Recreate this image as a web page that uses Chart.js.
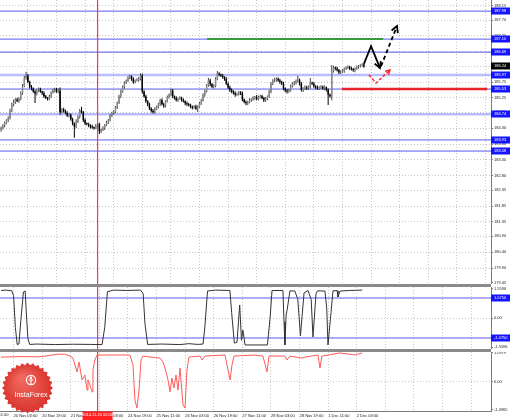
<!DOCTYPE html>
<html>
<head>
<meta charset="utf-8">
<script src="https://cdn.jsdelivr.net/npm/chart.js@4/dist/chart.umd.min.js"></script>
<style>
  html, body { margin:0; padding:0; background:#ffffff; }
  #wrap { position:relative; width:510px; height:420px; overflow:hidden; background:#fff; }
  #wrap canvas { position:absolute; left:0; }
  .sep { position:absolute; left:0; width:491px; height:3px; background:#8a8a8a; }
</style>
</head>
<body>
<div id="wrap">
  <canvas id="c1" width="510" height="284" style="top:0;width:510px;height:284px"></canvas>
  <div class="sep" style="top:284px"></div>
  <canvas id="c2" width="510" height="62" style="top:287px;width:510px;height:62px"></canvas>
  <div class="sep" style="top:349px"></div>
  <canvas id="c3" width="510" height="68" style="top:352px;width:510px;height:68px"></canvas>
</div>
<script>
// ================= DATA =================
const firstOpen = 184.25;
const closes = [
184.30,184.38,184.45,184.55,184.62,
184.85,185.05,185.12,185.20,185.15,185.22,
185.40,185.62,185.88,185.95,185.75,
185.60,185.55,185.45,185.38,185.48,185.52,
185.45,185.40,185.30,185.25,185.22,
185.30,185.42,185.48,185.52,185.45,185.48,
184.80,184.88,184.85,184.78,184.70,184.72,
184.58,184.45,184.35,184.50,184.65,
184.85,184.80,184.55,184.45,184.42,184.38,
184.35,184.32,184.30,184.38,184.42,
184.20,184.25,184.30,184.40,184.48,184.55,
184.70,184.78,184.80,184.95,185.10,185.30,
185.45,185.60,185.72,185.80,185.88,
185.92,185.85,185.75,185.80,185.82,185.85,
185.95,185.45,185.30,185.15,185.05,184.92,
184.85,184.80,184.90,184.98,185.05,
185.18,185.05,185.00,185.15,185.28,185.35,
185.48,185.30,185.25,185.18,185.22,185.25,
185.18,185.15,185.08,185.05,185.02,
184.98,184.95,184.98,184.92,184.98,185.08,
185.18,185.35,185.45,185.65,185.80,
185.68,185.60,185.62,185.85,186.02,185.98,
185.95,185.90,185.85,185.70,185.58,185.50,
185.45,185.40,185.35,185.38,185.42,
185.40,185.20,185.12,185.08,185.12,185.18,
185.20,185.25,185.28,185.22,185.28,185.30,
185.25,185.18,185.22,185.30,185.45,
185.70,185.80,185.82,185.85,185.80,185.75,
185.70,185.55,185.48,185.45,185.50,
185.62,185.70,185.72,185.78,185.82,185.70,
185.50,185.55,185.58,185.55,185.60,185.72,
185.70,185.62,185.58,185.55,185.58,
185.60,185.55,185.58,185.50,185.35,185.30,
186.10,186.20,186.18,186.12,186.05,
186.08,186.10,186.18,186.20,186.22,186.18,
186.15,186.12,186.18,186.22,186.25,186.28,
186.30,186.24
];
const upperWick = [
.05,.04,.06,.03,.05,
.06,.05,.08,.04,.06,.05,
.05,.07,.06,.12,.05,
.04,.06,.03,.05,.04,.06,
.05,.03,.06,.04,.03,
.05,.04,.06,.05,.04,.07,
.10,.05,.06,.04,.05,.06,
.04,.05,.03,.08,.06,
.05,.12,.04,.06,.03,.05,
.04,.06,.03,.05,.04,
.05,.04,.06,.03,.05,.04,
.05,.04,.06,.05,.04,.05,
.06,.04,.05,.03,.05,
.06,.04,.05,.03,.05,.06,
.08,.06,.04,.05,.03,.05,
.04,.05,.06,.03,.05,
.04,.06,.05,.03,.05,.04,
.06,.05,.03,.05,.04,.05,
.04,.05,.03,.06,.04,
.05,.03,.04,.06,.04,.05,
.04,.05,.06,.04,.08,
.05,.04,.06,.05,.08,.04,
.04,.05,.03,.06,.04,.05,
.05,.04,.06,.03,.05,
.04,.05,.03,.05,.04,.06,
.04,.05,.03,.06,.04,.05,
.05,.04,.06,.03,.05,
.05,.04,.06,.05,.04,.05,
.04,.06,.03,.05,.04,
.05,.04,.06,.05,.13,.04,
.05,.04,.06,.05,.04,.16,
.04,.05,.03,.06,.04,
.05,.04,.06,.03,.05,.04,
.19,.06,.04,.05,.04,
.04,.05,.03,.04,.05,.04,
.05,.04,.03,.05,.04,.03,
.04,.03
];
const lowerWick = [
.06,.04,.05,.03,.06,
.05,.04,.06,.05,.03,.05,
.04,.05,.03,.06,.04,
.05,.06,.04,.29,.05,.04,
.04,.06,.05,.03,.05,
.04,.05,.03,.06,.04,.05,
.08,.05,.06,.04,.05,.06,
.05,.06,.35,.05,.04,
.05,.04,.06,.05,.03,.05,
.06,.04,.05,.03,.05,
.08,.05,.04,.06,.03,.05,
.04,.05,.06,.03,.05,.04,
.05,.04,.06,.03,.05,
.04,.06,.05,.04,.03,.05,
.05,.06,.04,.05,.06,.05,
.06,.04,.05,.03,.06,
.05,.04,.06,.05,.04,.05,
.04,.06,.05,.04,.05,.03,
.05,.04,.06,.05,.04,
.05,.06,.04,.05,.11,.04,
.05,.04,.06,.03,.05,
.06,.04,.05,.03,.04,.05,
.04,.05,.06,.04,.05,.06,
.05,.04,.06,.03,.05,
.06,.05,.04,.06,.05,.04,
.05,.04,.06,.05,.04,.05,
.04,.06,.05,.04,.05,
.05,.04,.06,.05,.04,.05,
.04,.06,.05,.06,.04,
.05,.04,.06,.05,.04,.06,
.05,.06,.04,.05,.04,.05,
.04,.05,.06,.04,.05,
.05,.04,.06,.05,.32,.04,
.12,.05,.06,.04,.05,
.05,.04,.06,.05,.04,.05,
.04,.05,.06,.04,.05,.04,
.05,.04
];

// price axis
const priceTicks  = [188.15,187.70,187.20,186.70,186.25,185.75,185.25,184.80,184.30,183.80,183.30,182.80,182.35,181.85,181.35,180.90,180.40,179.90,179.45];
const priceLabels = ['188.15','187.70','187.20','186.70','186.25','185.75','185.25','184.80','184.30','183.80','183.30','182.80','182.35','181.85','181.35','180.90','180.40','179.90','179.45'];
// horizontal levels
const levelPrices = [187.98, 187.10, 186.69, 185.97, 185.53, 184.74, 183.93, 183.58];
const levelLabels = ['187.98','187.10','186.69','185.97','185.53','184.74','183.93','183.58'];
const currentPrice = 186.24;
const currentLabel = '186.24';
// drawn objects (bar index, price)
const greenLineIdx = [115.2, 213.7];
const greenLinePrice = [187.10, 187.10];
const supportLineIdx = [190.7, 272.0];
const supportLinePrice = [185.53, 185.53];
const blackPathIdx = [203.0, 207.0, 212.0];
const blackPathPrice = [186.32, 186.88, 186.19];
const blackDashIdx = [212.6, 221.5];
const blackDashPrice = [186.25, 187.51];
const redDashIdx = [205.8, 209.8, 217.6];
const redDashPrice = [185.97, 185.72, 186.13];

// time axis
const gridIdx = [7,23,39,55,71,87,103,119,135,151,167,183,199,215,231,247,263];
const gridLabels = ['20 Nov 03:00','20 Nov 19:00','21 Nov 11:00','24 Nov 03:00','24 Nov 19:00','25 Nov 11:00','26 Nov 03:00','26 Nov 19:00','27 Nov 11:00','28 Nov 03:00','28 Nov 19:00','1 Dec 11:00','2 Dec 03:00','','','',''];
const prevLabelIdx = -9;
const prevLabel = '19 Nov 11:00';
const vLineIdx = 54;
const vLineLabel = '2014.11.24 02:00';

// indicator 1
const osc1Idx = [0,3,6,7,8,9,10,11,12.5,13.5,14,15,16,20,30,40,50,56.5,58,59.5,61,63,70,78,79.5,80.5,82,90,100,105,110,113,114,115.5,120,128,129,130.5,132,133.5,134.5,135.3,136.5,149,150.5,151.6,157.7,158.3,158.8,159.5,160,161.6,164.4,166,167.5,169.5,171.7,173.5,174.5,176.2,177,181.2,182.2,182.9,184.6,185.7,188,188.5,189.6,195,202];
const osc1Val = [1.48,1.50,1.46,1.20,-0.50,-1.42,-1.40,-0.20,1.40,1.45,0.50,-1.10,-1.42,-1.40,-1.43,-1.41,-1.42,-1.43,-0.50,1.42,1.45,1.50,1.48,1.50,1.30,-0.30,-1.42,-1.40,-1.43,-1.38,-1.42,-1.40,-0.50,1.45,1.50,1.48,0.30,-1.35,-1.30,0.70,-1.20,-0.65,-1.45,-1.45,0.00,1.48,1.48,-0.20,-1.45,0.20,0.40,1.46,1.45,1.00,-0.95,1.35,1.48,1.00,-1.02,1.30,1.46,1.45,0.50,-1.45,0.30,1.46,1.47,1.13,1.45,1.48,1.50];
const osc1Ticks = [1.5596, 0, -1.5596];
const osc1Labels = ['1.5596', '0.00', '-1.5596'];
const osc1Levels = [1.075, -1.075];
const osc1LevelLabels = ['1.0750', '-1.0750'];

// indicator 2
const osc2Idx = [0,10.6,21.8,31.8,35.8,38.6,40.2,42.5,43.6,45.3,46.9,48.1,48.6,49.7,50.9,51.4,52.5,53.7,72.1,73.8,74.9,76.0,77.2,78.3,79.4,88.9,90.6,91.7,93.4,94.5,95.6,96.7,97.9,99,100.1,101.8,102.9,104,105.1,111.3,112.4,114.1,125.3,127,128.1,129.2,130.3,142.1,146.5,148.8,149.9,158.8,160,161.6,168.4,170,177.3,178.4,179.5,189.6,198,199.7,202];
const osc2Val = [0.94,0.96,0.95,1.05,1.05,0.98,0.90,0.37,0.75,0.06,0.25,-0.33,0.06,-0.13,-0.40,0.44,0.83,1.02,1.02,0.64,-0.71,-1.02,-0.33,0.83,0.98,0.90,0.75,0.52,0.06,-0.40,0.13,-0.25,0.25,-0.33,0.52,-0.90,-1.02,0.44,0.94,0.98,0.83,0.98,1.02,0.44,0.06,0.64,0.98,1.02,0.98,0.37,0.98,0.98,0.83,0.98,0.90,0.94,1.02,0.52,0.98,1.10,1.02,1.06,1.10];
const osc2Ticks = [1.0979, 0, -1.0965];
const osc2Labels = ['1.0979', '0.00', '-1.0965'];

// ================= RENDER =================
const FONT = '"Liberation Sans", Arial, sans-serif';
const xMin = -0.6, xMax = 274.1;
const opens = closes.map((c, i) => i === 0 ? firstOpen : closes[i - 1]);
const highs = closes.map((c, i) => Math.max(opens[i], c) + upperWick[i]);
const lows  = closes.map((c, i) => Math.min(opens[i], c) - lowerWick[i]);
const isBull = closes.map((c, i) => c >= opens[i]);
const thickLevels = [false, false, false, true, false, true, false, false];
const VRED = '#ff3c3c';

function xScale(showLabels) {
  return {
    type: 'linear', min: xMin, max: xMax, offset: false,
    afterBuildTicks: s => { s.ticks = gridIdx.map(v => ({ value: v })); },
    afterFit: s => { s.height = showLabels ? 9 : 0; s.paddingLeft = 0; s.paddingRight = 0; },
    grid: { color: '#c6c6c6', lineWidth: 1, drawTicks: false },
    border: { display: showLabels, color: '#7a7a7a', dash: [1, 2] },
    ticks: { display: showLabels, align: 'start', padding: 2, maxRotation: 0, minRotation: 0, autoSkip: false,
      font: { family: FONT, size: 4 }, color: '#222',
      callback: (v, i) => gridLabels[i] }
  };
}
function yScale(min, max, ticks, labels, hideGrid) {
  return {
    type: 'linear', position: 'right', min: min, max: max,
    afterBuildTicks: s => { s.ticks = ticks.map(v => ({ value: v })); },
    afterFit: s => { s.width = 19; s.paddingTop = 0; s.paddingBottom = 0; },
    grid: { color: c => (hideGrid && c.tick && hideGrid.indexOf(c.tick.value) >= 0) ? 'rgba(0,0,0,0)' : '#c6c6c6',
            lineWidth: 1, drawTicks: true, tickLength: 2, tickColor: '#7a7a7a', tickBorderDash: [] },
    border: { display: true, color: '#7a7a7a', dash: [1, 2] },
    ticks: { autoSkip: false, padding: 1, font: { family: FONT, size: 4 }, color: '#222',
      callback: (v, i) => labels[i] }
  };
}
function hLine(xs, ys, color, width, order, dash) {
  return { type: 'line', data: xs.map((x, k) => ({ x: x, y: ys[k] })), borderColor: color, backgroundColor: color,
           borderWidth: width, borderDash: dash || [], pointRadius: 0, tension: 0, order: order, fill: false };
}

const tagPlugin = {
  id: 'tags',
  afterDraw(chart, args, opts) {
    const ctx = chart.ctx, ys = chart.scales.y;
    (opts.items || []).forEach(t => {
      const y = ys.getPixelForValue(t.v);
      ctx.save();
      ctx.fillStyle = t.bg;
      ctx.fillRect(491, Math.round(y) - 3.5, 19, 7);
      ctx.fillStyle = '#ffffff';
      ctx.font = '4px ' + FONT;
      ctx.textBaseline = 'middle'; ctx.textAlign = 'left';
      ctx.fillText(t.text, 494, Math.round(y));
      ctx.restore();
    });
  }
};
const arrowPlugin = {
  id: 'arrows',
  afterDatasetsDraw(chart) {
    const ctx = chart.ctx;
    chart.data.datasets.forEach((ds, di) => {
      if (!ds.arrowHead) return;
      const pts = chart.getDatasetMeta(di).data;
      const a = pts[pts.length - 2], b = pts[pts.length - 1];
      const ang = Math.atan2(b.y - a.y, b.x - a.x), L = ds.arrowHead;
      ctx.save();
      ctx.strokeStyle = ds.borderColor; ctx.lineWidth = ds.borderWidth; ctx.setLineDash([]);
      ctx.beginPath();
      ctx.moveTo(b.x - L * Math.cos(ang - 0.5), b.y - L * Math.sin(ang - 0.5));
      ctx.lineTo(b.x, b.y);
      ctx.lineTo(b.x - L * Math.cos(ang + 0.5), b.y - L * Math.sin(ang + 0.5));
      ctx.stroke();
      ctx.restore();
    });
  }
};
const axisExtrasPlugin = {
  id: 'axisExtras',
  afterDraw(chart) {
    const ctx = chart.ctx, xs = chart.scales.x, top = chart.chartArea.bottom;
    ctx.save();
    ctx.font = '4px ' + FONT; ctx.textBaseline = 'top'; ctx.textAlign = 'left'; ctx.fillStyle = '#222';
    ctx.fillText(prevLabel, xs.getPixelForValue(prevLabelIdx), top + 2);
    const cx = xs.getPixelForValue(vLineIdx);
    ctx.fillStyle = '#ff2020';
    ctx.fillRect(cx - 15, top + 0.5, 30, 9);
    ctx.fillStyle = '#ffffff'; ctx.textAlign = 'center';
    ctx.fillText(vLineLabel, cx, top + 2);
    ctx.restore();
  }
};
const badgePlugin = {
  id: 'badge',
  afterDraw(chart) {
    const ctx = chart.ctx, cx = 27.5, cy = 36, R = 25.5, r = 23, n = 28;
    ctx.save();
    ctx.beginPath();
    for (let k = 0; k < 2 * n; k++) {
      const a = k * Math.PI / n - Math.PI / 2, rr = (k % 2 === 0) ? R : r;
      const px = cx + rr * Math.cos(a), py = cy + rr * Math.sin(a);
      if (k) ctx.lineTo(px, py); else ctx.moveTo(px, py);
    }
    ctx.closePath();
    const g = ctx.createRadialGradient(cx - 6, cy - 10, 2, cx, cy, R);
    g.addColorStop(0, '#f26a5f'); g.addColorStop(1, '#d8332c');
    ctx.fillStyle = g; ctx.fill();
    ctx.strokeStyle = '#ffffff'; ctx.fillStyle = '#ffffff'; ctx.lineWidth = 1.1;
    ctx.beginPath(); ctx.arc(cx + 3.5, cy - 8, 4.6, 0, Math.PI * 2); ctx.stroke();
    ctx.beginPath(); ctx.arc(cx + 3.5, cy - 10.2, 1.3, 0, Math.PI * 2); ctx.fill();
    ctx.beginPath(); ctx.moveTo(cx + 3.5, cy - 8.5); ctx.lineTo(cx + 3.5, cy - 4);
    ctx.moveTo(cx + 1, cy - 8); ctx.lineTo(cx + 6, cy - 8); ctx.stroke();
    ctx.font = '7px ' + FONT; ctx.textAlign = 'center'; ctx.textBaseline = 'middle';
    ctx.fillText('InstaForex', cx + 3.5, cy + 7);
    ctx.restore();
  }
};
const baseOpts = { responsive: false, animation: false, events: [], layout: { padding: 0 } };

// ---- main price chart ----
const yMin1 = 179.40, yMax1 = 188.33;
const mainSets = [];
levelPrices.forEach((p, k) => {
  mainSets.push(hLine([xMin, xMax], [p, p], thickLevels[k] ? 'rgba(125,135,255,0.55)' : '#5a5af2', thickLevels[k] ? 2.5 : 1, 30));
});
mainSets.push(hLine([vLineIdx, vLineIdx], [yMin1, yMax1], VRED, 1.2, 25));
mainSets.push(hLine(greenLineIdx, greenLinePrice, '#3c9a3c', 2, 20));
mainSets.push({ type: 'bar', data: closes.map((c, i) => ({ x: i, y: [lows[i], highs[i]] })),
  backgroundColor: isBull.map(b => b ? '#404040' : '#000000'), borderWidth: 0, inflateAmount: 0,
  barThickness: 1, grouped: false, order: 12 });
mainSets.push({ type: 'bar', data: closes.map((c, i) => ({ x: i, y: [Math.min(opens[i], c), Math.max(opens[i], c)] })),
  backgroundColor: isBull.map(b => b ? '#8c8c8c' : '#000000'), borderWidth: 0, inflateAmount: 0,
  barThickness: 1.5, grouped: false, minBarLength: 1, order: 11 });
mainSets.push(hLine(supportLineIdx, supportLinePrice, '#e8232a', 2.5, 5));
const bp = hLine(blackPathIdx, blackPathPrice, '#000000', 1.8, 2); bp.arrowHead = 7; mainSets.push(bp);
const bd = hLine(blackDashIdx, blackDashPrice, '#000000', 1.8, 2, [4, 3]); bd.arrowHead = 7; mainSets.push(bd);
const rd = hLine(redDashIdx, redDashPrice, '#ff2020', 1.4, 2, [3, 2]); rd.arrowHead = 5; mainSets.push(rd);

const mainTags = levelPrices.map((p, k) => ({ v: p, text: levelLabels[k], bg: '#1414ff' }));
mainTags.push({ v: currentPrice, text: currentLabel, bg: '#000000' });

new Chart(document.getElementById('c1'), {
  type: 'bar',
  data: { datasets: mainSets },
  options: Object.assign({}, baseOpts, {
    plugins: { legend: { display: false }, tooltip: { enabled: false }, tags: { items: mainTags } },
    scales: { x: xScale(false), y: yScale(yMin1, yMax1, priceTicks, priceLabels, [179.45]) }
  }),
  plugins: [tagPlugin, arrowPlugin]
});

// ---- indicator 1 ----
const yMin2 = -1.667, yMax2 = 1.667;
const sets2 = [];
osc1Levels.forEach(v => sets2.push(hLine([xMin, xMax], [v, v], '#5a5af2', 1, 30)));
sets2.push(hLine([vLineIdx, vLineIdx], [yMin2, yMax2], VRED, 1.2, 25));
sets2.push(hLine(osc1Idx, osc1Val, '#333333', 1, 5));
new Chart(document.getElementById('c2'), {
  type: 'line',
  data: { datasets: sets2 },
  options: Object.assign({}, baseOpts, {
    plugins: { legend: { display: false }, tooltip: { enabled: false },
      tags: { items: osc1Levels.map((v, k) => ({ v: v, text: osc1LevelLabels[k], bg: '#1414ff' })) } },
    scales: { x: xScale(false), y: yScale(yMin2, yMax2, osc1Ticks, osc1Labels, [1.5596, -1.5596]) }
  }),
  plugins: [tagPlugin]
});

// ---- indicator 2 ----
const yMin3 = -1.135, yMax3 = 1.136;
const sets3 = [];
sets3.push(hLine([vLineIdx, vLineIdx], [yMin3, yMax3], VRED, 1.2, 25));
sets3.push(hLine(osc2Idx, osc2Val, '#ff5a5a', 1, 5));
new Chart(document.getElementById('c3'), {
  type: 'line',
  data: { datasets: sets3 },
  options: Object.assign({}, baseOpts, {
    plugins: { legend: { display: false }, tooltip: { enabled: false } },
    scales: { x: xScale(true), y: yScale(yMin3, yMax3, osc2Ticks, osc2Labels, [1.0979, -1.0965]) }
  }),
  plugins: [axisExtrasPlugin, badgePlugin]
});
</script>
</body>
</html>
